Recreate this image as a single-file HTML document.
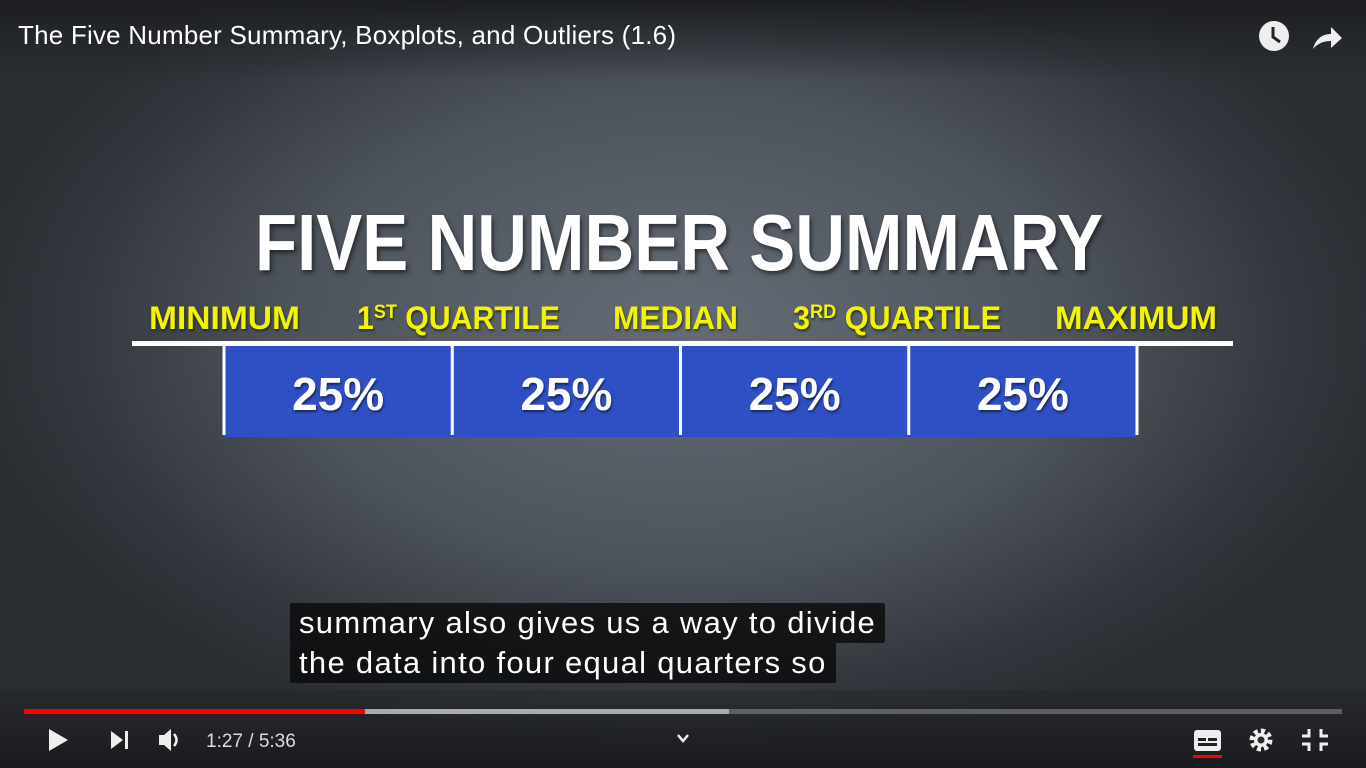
<!DOCTYPE html>
<html><head><meta charset="utf-8"><style>
html,body{margin:0;padding:0;width:1366px;height:768px;overflow:hidden;background:#3a3f46;}
#bg{position:absolute;left:0;top:0;width:1366px;height:768px;background:radial-gradient(ellipse 720px 430px at 683px 330px,#656c76 0%,#4d535b 55%,#33373d 85%,#2a2d32 100%);}
#topfade{position:absolute;left:0;top:0;width:1366px;height:80px;background:linear-gradient(#1c1e22 0%,rgba(30,32,36,0.5) 50%,rgba(0,0,0,0) 100%);}
#botfade{position:absolute;left:0;top:690px;width:1366px;height:78px;background:linear-gradient(rgba(30,32,36,0.3),#1a1b1e);}
.cap{position:absolute;left:290px;background:rgba(8,8,8,0.78);color:#fff;font-family:"Liberation Sans",sans-serif;font-size:31px;letter-spacing:1.3px;line-height:40px;padding:0 9px;border-radius:2px;white-space:nowrap;}
svg{position:absolute;left:0;top:0;}
</style></head><body>
<div id="bg"></div>
<div id="topfade"></div>
<div id="botfade"></div>
<svg width="1366" height="768" id="chart">
<text x="18" y="44" fill="#fff" font-family="Liberation Sans, sans-serif" font-size="26" textLength="658">The Five Number Summary, Boxplots, and Outliers (1.6)</text>
<g><circle cx="1274" cy="36" r="15" fill="#eee"/><path d="M1273 27 V37 L1280 42" stroke="#222" stroke-width="3" fill="none"/></g>
<path d="M1313 49 C1316 38 1323 34 1331 34 V27 L1342 38 L1331 48 V41 C1324 41 1318 43 1313 49Z" fill="#eee"/>
<text x="255" y="270" fill="#fff" font-family="Liberation Sans, sans-serif" font-weight="bold" font-size="80" textLength="848" lengthAdjust="spacingAndGlyphs" style="filter:drop-shadow(2px 3px 2px rgba(0,0,0,0.5))">FIVE NUMBER SUMMARY</text>
<g id="labels"></g>
<rect x="132" y="341" width="1101" height="5" fill="#fff"/>
<g id="segs"></g>
<g>
<rect x="24" y="709" width="1318" height="5" fill="rgba(200,200,200,0.35)"/>
<rect x="365" y="709" width="364" height="5" fill="#a9abb0"/>
<rect x="24" y="709" width="341" height="5" fill="#f00"/>
</g>
<path d="M49 729 L68 740 L49 751Z" fill="#eee"/>
<g><path d="M111 731 L123 740 L111 749Z" fill="#eee"/><rect x="125" y="731" width="3" height="18" fill="#eee"/></g>
<g><path d="M159 735 H164 L171 729 V751 L164 745 H159Z" fill="#eee"/><path d="M174 734 Q179 740 174 746" stroke="#eee" stroke-width="2.5" fill="none"/></g>
<text x="206" y="747" fill="#ddd" font-family="Liberation Sans, sans-serif" font-size="19">1:27 / 5:36</text>
<path d="M678 735 L683 741 L688 735" stroke="#eee" stroke-width="2.5" fill="none"/>
<g><rect x="1194" y="730" width="27" height="21" rx="3" fill="#eee"/><rect x="1198" y="738" width="8" height="3" fill="#222"/><rect x="1208" y="738" width="9" height="3" fill="#222"/><rect x="1198" y="743" width="19" height="3" fill="#222"/><rect x="1193" y="755" width="29" height="3" fill="#f00"/></g>
<g><circle cx="1261" cy="740" r="9" fill="none" stroke="#eee" stroke-width="5" stroke-dasharray="4 3"/><circle cx="1261" cy="740" r="7" fill="#eee"/><circle cx="1261" cy="740" r="3.5" fill="#2a2c30"/></g>
<g stroke="#eee" stroke-width="3" fill="none"><path d="M1309 729 V736 H1302"/><path d="M1321 729 V736 H1328"/><path d="M1302 744 H1309 V751"/><path d="M1328 744 H1321 V751"/></g>
</svg>
<div class="cap" style="top:603px;">summary also gives us a way to divide</div>
<div class="cap" style="top:643px;">the data into four equal quarters so</div>
<script>
const labelNames = ["MINIMUM","1ST QUARTILE","MEDIAN","3RD QUARTILE","MAXIMUM"];
const segmentPercents = [25,25,25,25];
const NS="http://www.w3.org/2000/svg";
const lab=document.getElementById('labels');
const lx=[149,357,613,793,1055], lw=[151,203,125,208,162];
labelNames.forEach((t,i)=>{
  const el=document.createElementNS(NS,'text');
  
  
  el.setAttribute('x',lx[i]);el.setAttribute('y',329);
  el.setAttribute('fill','#f2f500');
  el.setAttribute('font-family','Liberation Sans, sans-serif');
  el.setAttribute('font-weight','bold');el.setAttribute('font-size','32');
  el.setAttribute('textLength',lw[i]);el.setAttribute('lengthAdjust','spacingAndGlyphs');
  el.setAttribute('style','filter:drop-shadow(1px 2px 1px rgba(0,0,0,0.5))');
  if(t.startsWith('1ST')||t.startsWith('3RD')){
    const s=document.createElementNS(NS,'tspan');s.textContent=t[0];el.appendChild(s);
    const sup=document.createElementNS(NS,'tspan');sup.setAttribute('font-size','19');sup.setAttribute('dy','-11');sup.textContent=t.slice(1,3);el.appendChild(sup);
    const r=document.createElementNS(NS,'tspan');r.setAttribute('dy','11');r.textContent=t.slice(3);el.appendChild(r);
  } else el.textContent=t;
  lab.appendChild(el);
});
const segs=document.getElementById('segs');
const x0=224,x1=1137,total=segmentPercents.reduce((a,b)=>a+b,0);
const xs=v=>x0+(x1-x0)*v/total;
let acc=0;
segmentPercents.forEach((p,i)=>{
  const a=xs(acc),b=xs(acc+p);acc+=p;
  const r=document.createElementNS(NS,'rect');
  
  
  r.setAttribute('x',a);r.setAttribute('y',346);r.setAttribute('width',b-a);r.setAttribute('height',91);r.setAttribute('fill','#2f4fc5');
  segs.appendChild(r);
  const t=document.createElementNS(NS,'text');
  
  
  t.setAttribute('x',(a+b)/2);t.setAttribute('y',410);t.setAttribute('text-anchor','middle');
  t.setAttribute('fill','#fff');t.setAttribute('font-family','Liberation Sans, sans-serif');t.setAttribute('font-weight','bold');t.setAttribute('font-size','46');
  t.setAttribute('style','filter:drop-shadow(1px 2px 1px rgba(0,0,0,0.5))');
  t.textContent=p+'%';segs.appendChild(t);
});
acc=0;
[0,...segmentPercents].forEach((p)=>{
  acc+=p;
  const d=document.createElementNS(NS,'rect');
  
  
  d.setAttribute('x',xs(acc)-1.5);d.setAttribute('y',346);d.setAttribute('width',3);d.setAttribute('height',89);d.setAttribute('fill','#fff');
  segs.appendChild(d);
});
</script>
</body></html>
